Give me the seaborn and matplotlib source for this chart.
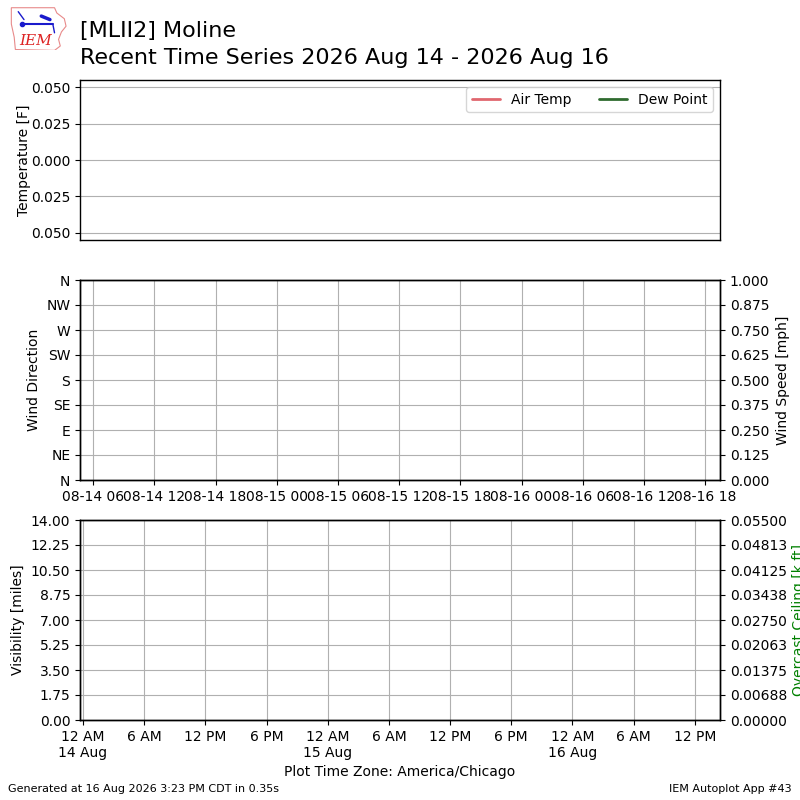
import matplotlib
matplotlib.use("Agg")
import matplotlib.pyplot as plt
import seaborn as sns
import pandas as pd
import numpy as np
from matplotlib.patches import Polygon

# ---------------- data ----------------
station = "[MLII2] Moline"
subtitle = "Recent Time Series 2026 Aug 14 - 2026 Aug 16"

air_temp_times = []
air_temp = []
dew_point_times = []
dew_point = []

x_start = "2026-08-13 23:42"
x_end = "2026-08-16 14:28"

temp_ticks = [-0.05, -0.025, 0.0, 0.025, 0.05]
temp_ticklabels = ["0.050", "0.025", "0.000", "0.025", "0.050"]

dir_ticks = [0, 45, 90, 135, 180, 225, 270, 315, 360]
dir_labels = ["N", "NE", "E", "SE", "S", "SW", "W", "NW", "N"]

speed_ticks = [0, 0.125, 0.25, 0.375, 0.5, 0.625, 0.75, 0.875, 1.0]
speed_labels = ["0.000", "0.125", "0.250", "0.375", "0.500", "0.625", "0.750", "0.875", "1.000"]

mid_tick_times = ["2026-08-14 01:00", "2026-08-14 07:00", "2026-08-14 13:00", "2026-08-14 19:00",
                  "2026-08-15 01:00", "2026-08-15 07:00", "2026-08-15 13:00", "2026-08-15 19:00",
                  "2026-08-16 01:00", "2026-08-16 07:00", "2026-08-16 13:00"]
mid_tick_labels = ["08-14 06", "08-14 12", "08-14 18", "08-15 00", "08-15 06", "08-15 12",
                   "08-15 18", "08-16 00", "08-16 06", "08-16 12", "08-16 18"]

vis_ticks = [0, 1.75, 3.5, 5.25, 7.0, 8.75, 10.5, 12.25, 14.0]
vis_labels = ["0.00", "1.75", "3.50", "5.25", "7.00", "8.75", "10.50", "12.25", "14.00"]

ceil_ticks = [0, 0.006875, 0.01375, 0.020625, 0.0275, 0.034375, 0.04125, 0.048125, 0.055]
ceil_labels = ["0.00000", "0.00688", "0.01375", "0.02063", "0.02750", "0.03438", "0.04125", "0.04813", "0.05500"]

bot_tick_times = ["2026-08-14 00:00", "2026-08-14 06:00", "2026-08-14 12:00", "2026-08-14 18:00",
                  "2026-08-15 00:00", "2026-08-15 06:00", "2026-08-15 12:00", "2026-08-15 18:00",
                  "2026-08-16 00:00", "2026-08-16 06:00", "2026-08-16 12:00"]
bot_tick_labels = ["12 AM\n14 Aug", "6 AM", "12 PM", "6 PM", "12 AM\n15 Aug", "6 AM", "12 PM",
                   "6 PM", "12 AM\n16 Aug", "6 AM", "12 PM"]

# ---------------- style ----------------
sns.set_style("ticks")
plt.rcParams.update({
    "font.family": ["DejaVu Sans"],
    "font.size": 10,
    "text.color": "black",
    "axes.labelcolor": "black",
    "axes.edgecolor": "black",
    "axes.linewidth": 1.0,
    "xtick.color": "black",
    "ytick.color": "black",
    "xtick.direction": "out",
    "ytick.direction": "out",
    "xtick.major.size": 3.5,
    "ytick.major.size": 3.5,
    "grid.color": "#b0b0b0",
    "grid.linewidth": 0.8,
    "axes.facecolor": "white",
    "figure.facecolor": "white",
    "legend.labelcolor": "black",
})

xs = pd.Timestamp(x_start)
xe = pd.Timestamp(x_end)

fig = plt.figure(figsize=(8, 8), dpi=100)

# ---------------- top panel ----------------
ax1 = fig.add_axes([0.1, 0.7, 0.8, 0.2])
df_t = pd.DataFrame({"time": pd.to_datetime(air_temp_times), "val": pd.Series(air_temp, dtype=float)})
df_d = pd.DataFrame({"time": pd.to_datetime(dew_point_times), "val": pd.Series(dew_point, dtype=float)})
ax1.plot(df_t["time"], df_t["val"], color="#e0676f", lw=2, label="Air Temp")
ax1.plot(df_d["time"], df_d["val"], color="#2f6b2f", lw=2, label="Dew Point")
ax1.set_xlim(xs, xe)
ax1.set_ylim(-0.055, 0.055)
ax1.set_yticks(temp_ticks)
ax1.set_yticklabels(temp_ticklabels)
ax1.set_xticks([])
ax1.grid(True, axis="y")
ax1.set_ylabel("Temperature [F]")
ax1.yaxis.set_label_coords(-0.076, 0.5)
ax1.legend(loc="upper right", ncol=2, fontsize=10)

# ---------------- middle panel ----------------
ax2 = fig.add_axes([0.1, 0.4, 0.8, 0.25])
ax2.set_xlim(xs, xe)
ax2.set_ylim(0, 360)
ax2.set_yticks(dir_ticks)
ax2.set_yticklabels(dir_labels)
ax2.set_xticks(pd.to_datetime(mid_tick_times))
ax2.set_xticklabels(mid_tick_labels)
ax2.grid(True)
ax2.set_ylabel("Wind Direction")
ax2.yaxis.set_label_coords(-0.061, 0.5)
ax2b = ax2.twinx()
ax2b.set_ylim(0, 1)
ax2b.set_yticks(speed_ticks)
ax2b.set_yticklabels(speed_labels)
ax2b.set_ylabel("Wind Speed [mph]")
ax2b.yaxis.set_label_coords(1.0875, 0.5)

# ---------------- bottom panel ----------------
ax3 = fig.add_axes([0.1, 0.1, 0.8, 0.25])
ax3.set_xlim(xs, xe)
ax3.set_ylim(0, 14)
ax3.set_yticks(vis_ticks)
ax3.set_yticklabels(vis_labels)
ax3.set_xticks(pd.to_datetime(bot_tick_times))
ax3.set_xticklabels(bot_tick_labels)
ax3.grid(True)
ax3.set_ylabel("Visibility [miles]")
ax3.yaxis.set_label_coords(-0.086, 0.5)
ax3.set_xlabel("Plot Time Zone: America/Chicago")
ax3b = ax3.twinx()
ax3b.set_ylim(0, 0.055)
ax3b.set_yticks(ceil_ticks)
ax3b.set_yticklabels(ceil_labels)
ax3b.set_ylabel("Overcast Ceiling [k ft]", color="green")
ax3b.yaxis.set_label_coords(1.1125, 0.5)

# ---------------- titles & footer ----------------
fig.text(0.1, 0.9535, station, fontsize=16, ha="left", va="baseline")
fig.text(0.1, 0.92, subtitle, fontsize=16, ha="left", va="baseline")
fig.text(0.01, 0.0075, "Generated at 16 Aug 2026 3:23 PM CDT in 0.35s", fontsize=8, ha="left", va="bottom")
fig.text(0.99, 0.0075, "IEM Autoplot App #43", fontsize=8, ha="right", va="bottom")

# ---------------- logo ----------------
lax = fig.add_axes([0.012, 0.937, 0.072, 0.055])
lax.set_xlim(0, 1)
lax.set_ylim(0, 1)
lax.axis("off")
iowa = [(0.03, 0.97), (0.78, 0.97), (0.82, 0.85), (0.95, 0.72), (0.98, 0.55), (0.9, 0.42),
        (0.85, 0.25), (0.88, 0.1), (0.78, 0.0), (0.1, 0.02), (0.08, 0.3), (0.03, 0.6)]
lax.add_patch(Polygon(iowa, closed=True, fill=False, edgecolor="#e88a8a", lw=0.8))
lax.plot([0.22, 0.75], [0.6, 0.6], color="#1a1acc", lw=1.5)
lax.plot([0.22], [0.6], "o", color="#1a1acc", ms=3)
lax.plot([0.15, 0.25], [0.88, 0.7], color="#1a1acc", lw=1)
lax.plot([0.55, 0.7], [0.78, 0.7], color="#1a1acc", lw=2.5)
lax.plot([0.75, 0.78], [0.6, 0.4], color="#1a1acc", lw=1)
lax.text(0.45, 0.22, "IEM", color="#dd2222", fontsize=11, fontstyle="italic",
         family="DejaVu Serif", ha="center", va="center")

fig.savefig("out.png", dpi=100)
